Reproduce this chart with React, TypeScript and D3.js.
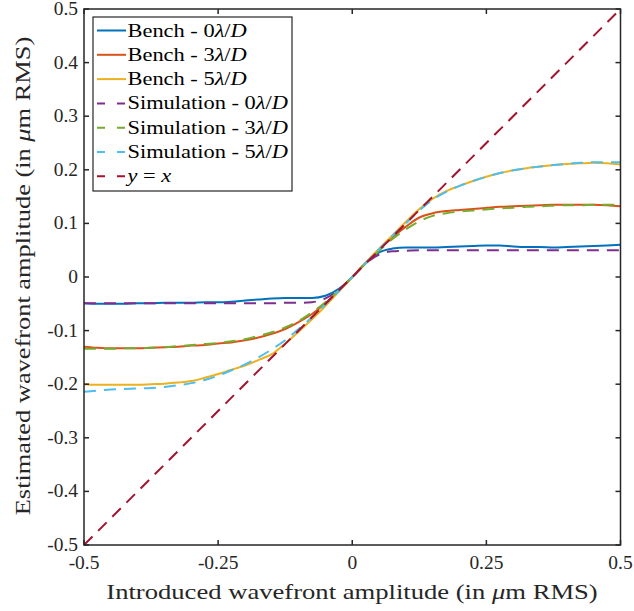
import React from "react";
import * as d3 from "d3";

const xs = [-0.5, -0.475, -0.45, -0.425, -0.4, -0.375, -0.35, -0.325, -0.3, -0.275, -0.25, -0.225, -0.2, -0.175, -0.15, -0.125, -0.1, -0.075, -0.05, -0.025, 0, 0.025, 0.05, 0.075, 0.1, 0.125, 0.15, 0.175, 0.2, 0.225, 0.25, 0.275, 0.3, 0.325, 0.35, 0.375, 0.4, 0.425, 0.45, 0.475, 0.5];

const bench0 = [-0.049, -0.05, -0.05, -0.05, -0.049, -0.049, -0.048, -0.048, -0.048, -0.047, -0.047, -0.046, -0.044, -0.042, -0.04, -0.039, -0.039, -0.039, -0.035, -0.022, 0, 0.026, 0.046, 0.053, 0.055, 0.055, 0.055, 0.056, 0.057, 0.058, 0.059, 0.059, 0.057, 0.056, 0.056, 0.055, 0.056, 0.057, 0.058, 0.059, 0.06];
const bench3 = [-0.13, -0.132, -0.133, -0.133, -0.133, -0.132, -0.131, -0.13, -0.128, -0.127, -0.124, -0.122, -0.118, -0.113, -0.106, -0.097, -0.084, -0.069, -0.049, -0.026, 0, 0.026, 0.051, 0.074, 0.094, 0.111, 0.119, 0.123, 0.125, 0.127, 0.129, 0.131, 0.132, 0.133, 0.134, 0.135, 0.135, 0.135, 0.135, 0.134, 0.132];
const bench5 = [-0.2, -0.201, -0.201, -0.201, -0.201, -0.2, -0.199, -0.197, -0.194, -0.188, -0.181, -0.173, -0.165, -0.155, -0.144, -0.124, -0.102, -0.079, -0.054, -0.027, 0, 0.027, 0.053, 0.078, 0.103, 0.127, 0.146, 0.16, 0.17, 0.179, 0.187, 0.194, 0.199, 0.203, 0.206, 0.209, 0.211, 0.212, 0.213, 0.212, 0.21];
const sim0 = [-0.049, -0.049, -0.049, -0.049, -0.049, -0.049, -0.049, -0.049, -0.049, -0.049, -0.049, -0.049, -0.049, -0.049, -0.049, -0.048, -0.048, -0.047, -0.04, -0.024, 0, 0.025, 0.042, 0.048, 0.049, 0.05, 0.05, 0.05, 0.05, 0.05, 0.05, 0.05, 0.05, 0.05, 0.05, 0.05, 0.05, 0.05, 0.05, 0.05, 0.05];
const sim3 = [-0.134, -0.134, -0.134, -0.133, -0.133, -0.132, -0.131, -0.129, -0.127, -0.125, -0.123, -0.12, -0.116, -0.11, -0.103, -0.094, -0.082, -0.066, -0.047, -0.025, 0, 0.025, 0.049, 0.071, 0.089, 0.104, 0.114, 0.119, 0.122, 0.124, 0.126, 0.128, 0.129, 0.131, 0.132, 0.133, 0.134, 0.134, 0.135, 0.135, 0.134];
const sim5 = [-0.214, -0.212, -0.21, -0.209, -0.208, -0.207, -0.205, -0.202, -0.198, -0.192, -0.184, -0.174, -0.163, -0.15, -0.135, -0.118, -0.097, -0.075, -0.051, -0.026, 0, 0.026, 0.052, 0.077, 0.1, 0.124, 0.144, 0.159, 0.17, 0.179, 0.187, 0.194, 0.199, 0.203, 0.206, 0.209, 0.211, 0.213, 0.214, 0.214, 0.214];
const identityXs = [-0.5, 0.5];

const xTicks = [-0.5, -0.25, 0, 0.25, 0.5];
const xTickLabels = ["-0.5", "-0.25", "0", "0.25", "0.5"];
const yTicks = [-0.5, -0.4, -0.3, -0.2, -0.1, 0, 0.1, 0.2, 0.3, 0.4, 0.5];
const yTickLabels = ["-0.5", "-0.4", "-0.3", "-0.2", "-0.1", "0", "0.1", "0.2", "0.3", "0.4", "0.5"];

const seriesNames = ["Bench", "Bench", "Bench", "Simulation", "Simulation", "Simulation"];
const seriesOrders = ["0", "3", "5", "0", "3", "5"];
const seriesColors = ["#0072BD", "#D95319", "#EDB120", "#7E2F8E", "#77AC30", "#4DBEEE"];
const seriesData = [bench0, bench3, bench5, sim0, sim3, sim5];
const seriesDashed = [false, false, false, true, true, true];
const identityColor = "#A2142F";

const FONT = "Liberation Serif, DejaVu Serif, serif";

export default function App() {
  const W = 634, H = 611;
  const x = d3.scaleLinear().domain([-0.5, 0.5]).range([84, 620.5]);
  const y = d3.scaleLinear().domain([-0.5, 0.5]).range([545, 9]);
  const line = d3.line<[number, number]>().x(d => x(d[0])).y(d => y(d[1])).curve(d3.curveMonotoneX);
  const axisColor = "#262626";
  const tick = 5;
  const ts = { fontFamily: FONT };
  const sx = 1.18;

  const legendX = 93, legendY = 17, legendW = 199, legendH = 174;
  const rowH = 24.3;

  return (
    <svg width={W} height={H} style={{ position: "absolute", left: 0, top: 0, background: "#fff" }}>
      <rect x={0} y={0} width={W} height={H} fill="#fff" />
      <defs>
        <clipPath id="plotclip">
          <rect x={x(-0.5)} y={y(0.5)} width={x(0.5) - x(-0.5)} height={y(-0.5) - y(0.5)} />
        </clipPath>
      </defs>
      <g clipPath="url(#plotclip)" fill="none" strokeWidth={2}>
        {seriesData.map((vals, i) => (
          <path key={i} d={line(xs.map((xv, j) => [xv, vals[j]] as [number, number])) || ""}
            stroke={seriesColors[i]} strokeDasharray={seriesDashed[i] ? "12 8" : undefined} />
        ))}
        <path d={line(identityXs.map(v => [v, v] as [number, number])) || ""} stroke={identityColor} strokeDasharray="12 8" />
      </g>
      <rect x={x(-0.5)} y={y(0.5)} width={x(0.5) - x(-0.5)} height={y(-0.5) - y(0.5)} fill="none" stroke={axisColor} strokeWidth={1.5} />
      {xTicks.map((t, i) => (
        <g key={"xt" + i}>
          <line x1={x(t)} x2={x(t)} y1={y(-0.5)} y2={y(-0.5) - tick} stroke={axisColor} strokeWidth={1.5} />
          <line x1={x(t)} x2={x(t)} y1={y(0.5)} y2={y(0.5) + tick} stroke={axisColor} strokeWidth={1.5} />
          <text style={ts} transform={`translate(${x(t)},569) scale(1.08,1)`} textAnchor="middle" fontSize={18} fill="#262626">{xTickLabels[i]}</text>
        </g>
      ))}
      {yTicks.map((t, i) => (
        <g key={"yt" + i}>
          <line x1={x(-0.5)} x2={x(-0.5) + tick} y1={y(t)} y2={y(t)} stroke={axisColor} strokeWidth={1.5} />
          <line x1={x(0.5)} x2={x(0.5) - tick} y1={y(t)} y2={y(t)} stroke={axisColor} strokeWidth={1.5} />
          <text style={ts} transform={`translate(78,${y(t) + 6}) scale(1.08,1)`} textAnchor="end" fontSize={18} fill="#262626">{yTickLabels[i]}</text>
        </g>
      ))}
      <text style={ts} transform={`translate(352,599) scale(1.21,1)`} textAnchor="middle" fontSize={22} fill="#262626">
        Introduced wavefront amplitude (in <tspan fontStyle="italic">μ</tspan>m RMS)
      </text>
      <text style={ts} transform="translate(30,276) rotate(-90) scale(1.2,1)" textAnchor="middle" fontSize={22} fill="#262626">
        Estimated wavefront amplitude (in <tspan fontStyle="italic">μ</tspan>m RMS)
      </text>
      <rect x={legendX} y={legendY} width={legendW} height={legendH} fill="#fff" stroke={axisColor} strokeWidth={1.2} />
      {seriesNames.map((name, i) => {
        const cy = legendY + 13.5 + i * rowH;
        return (
          <g key={"lg" + i}>
            <line x1={97} x2={126} y1={cy} y2={cy} stroke={seriesColors[i]} strokeWidth={2}
              strokeDasharray={seriesDashed[i] ? "8 12" : undefined} />
            <text style={ts} transform={`translate(127.5,${cy + 6}) scale(${sx},1)`} fontSize={19} fill="#000">
              {name} - {seriesOrders[i]}<tspan fontStyle="italic">λ</tspan>/<tspan fontStyle="italic">D</tspan>
            </text>
          </g>
        );
      })}
      {(() => {
        const cy = legendY + 13.5 + 6 * rowH;
        return (
          <g>
            <line x1={97} x2={126} y1={cy} y2={cy} stroke={identityColor} strokeWidth={2} strokeDasharray="8 12" />
            <text style={ts} transform={`translate(127.5,${cy + 6}) scale(${sx},1)`} fontSize={19} fill="#000">
              <tspan fontStyle="italic">y</tspan> = <tspan fontStyle="italic">x</tspan>
            </text>
          </g>
        );
      })()}
    </svg>
  );
}
